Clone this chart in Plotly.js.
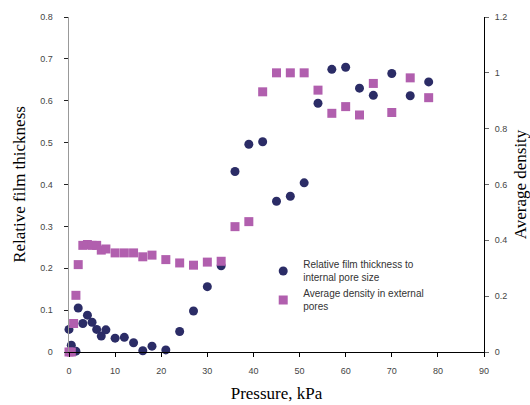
<!DOCTYPE html>
<html>
<head>
<meta charset="utf-8">
<script src="https://cdn.plot.ly/plotly-3.0.1.min.js"></script>
<style>html,body{margin:0;padding:0;background:#fff;}#chart{width:530px;height:405px;}</style>
</head>
<body>
<div id="chart"></div>
<script>
// Relative film thickness to internal pore size (left axis)
var thicknessPressure = [0, 0.5, 1.5, 2, 3, 4, 5, 6, 7, 8, 10, 12, 14, 16, 18, 21, 24, 27, 30, 33, 36, 39, 42, 45, 48, 51, 54, 57, 60, 63, 66, 70, 74, 78];
var thicknessValues = [0.054, 0.016, 0.002, 0.105, 0.068, 0.088, 0.071, 0.054, 0.038, 0.053, 0.033, 0.035, 0.022, 0.003, 0.014, 0.005, 0.049, 0.098, 0.156, 0.206, 0.431, 0.496, 0.502, 0.360, 0.372, 0.404, 0.594, 0.675, 0.680, 0.630, 0.613, 0.665, 0.612, 0.645];
// Average density in external pores (right axis)
var densityPressure = [0, 0.5, 1, 1.5, 2, 3, 4, 5, 6, 7, 8, 10, 12, 14, 16, 18, 21, 24, 27, 30, 33, 36, 39, 42, 45, 48, 51, 54, 57, 60, 63, 66, 70, 74, 78];
var densityValues = [0, 0, 0.102, 0.203, 0.313, 0.382, 0.385, 0.382, 0.382, 0.365, 0.369, 0.355, 0.355, 0.355, 0.341, 0.347, 0.331, 0.319, 0.311, 0.322, 0.325, 0.449, 0.467, 0.932, 1.0, 1.0, 1.0, 0.938, 0.855, 0.879, 0.849, 0.962, 0.858, 0.982, 0.911];

var seriesNames = ['Relative film thickness to<br>internal pore size', 'Average density in external<br>pores'];

var traces = [
  {
    x: thicknessPressure, y: thicknessValues, name: seriesNames[0],
    type: 'scatter', mode: 'markers', yaxis: 'y', cliponaxis: false,
    marker: {symbol: 'circle', size: 9, color: '#2b2c66'}
  },
  {
    x: densityPressure, y: densityValues, name: seriesNames[1],
    type: 'scatter', mode: 'markers', yaxis: 'y2', cliponaxis: false,
    marker: {symbol: 'square', size: 9, color: '#b15fae'}
  }
];

var tickFont = {family: 'Liberation Sans, Arial, sans-serif', size: 9, color: '#444'};
var titleFont = {family: 'Liberation Serif, Times New Roman, serif', size: 17, color: '#000'};

var layout = {
  width: 530, height: 405,
  margin: {l: 69, r: 46, t: 17, b: 53, pad: 0},
  paper_bgcolor: '#fff', plot_bgcolor: '#fff',
  showlegend: true,
  legend: {
    x: 0.468, y: 0.30, xanchor: 'left', yanchor: 'top',
    font: {family: 'Liberation Sans, Arial, sans-serif', size: 10, color: '#333'},
    bgcolor: 'rgba(0,0,0,0)', itemwidth: 30, tracegroupgap: 2
  },
  xaxis: {
    range: [0, 90], dtick: 10, tick0: 0, showgrid: false, zeroline: false,
    showline: true, linecolor: '#000', linewidth: 1,
    ticks: 'outside', ticklen: 4, tickcolor: '#000',
    tickfont: tickFont, ticklabelstandoff: 6,
    title: {text: 'Pressure, kPa', font: titleFont, standoff: 12}
  },
  yaxis: {
    range: [0, 0.8], dtick: 0.1, tick0: 0, showgrid: false, zeroline: false,
    showline: true, linecolor: '#999', linewidth: 1.5,
    ticks: 'outside', ticklen: 4, tickcolor: '#222',
    tickfont: tickFont, ticklabelstandoff: 9,
    title: {text: 'Relative film thickness', font: titleFont, standoff: 10}
  },
  yaxis2: {
    range: [0, 1.2], dtick: 0.2, tick0: 0, overlaying: 'y', side: 'right',
    showgrid: false, zeroline: false,
    showline: true, linecolor: '#000', linewidth: 1,
    ticks: 'outside', ticklen: 4, tickcolor: '#666',
    tickfont: tickFont, ticklabelstandoff: 4,
    title: {text: 'Average density', font: titleFont, standoff: 10}
  }
};

Plotly.newPlot('chart', traces, layout, {displayModeBar: false, staticPlot: true});
</script>
</body>
</html>
